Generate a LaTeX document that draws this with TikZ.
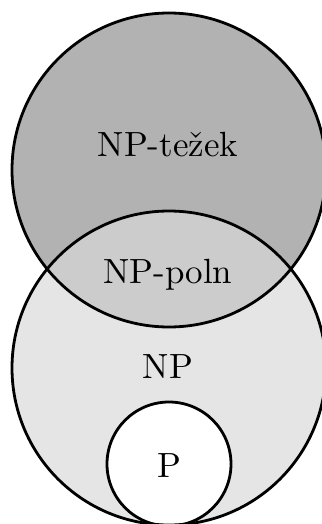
\documentclass[tikz,border=0pt]{standalone}
\usepackage{tikz}
\begin{document}
\begin{tikzpicture}[x=0.2857pt, y=-0.2857pt]
    \useasboundingbox (0,0) rectangle (321,524);
    \fill[black!30] (169,170) circle (157);
    \fill[black!10] (169,368) circle (157);
    \begin{scope}
      \clip (169,170) circle (157);
      \fill[black!20] (169,368) circle (157);
    \end{scope}
    \fill[white] (169,464) circle (62);
    \draw[thick] (169,170) circle (157);
    \draw[thick] (169,368) circle (157);
    \draw[thick] (169,464) circle (62);
    \node[anchor=base] (hard) at (168,156) {NP-težek};
    \node[anchor=base] (compl) at (168,283) {NP-poln};
    \node[anchor=base] (np) at (168,378) {NP};
    \node[anchor=base] (p) at (169,477) {P};
  \end{tikzpicture}
\end{document}
